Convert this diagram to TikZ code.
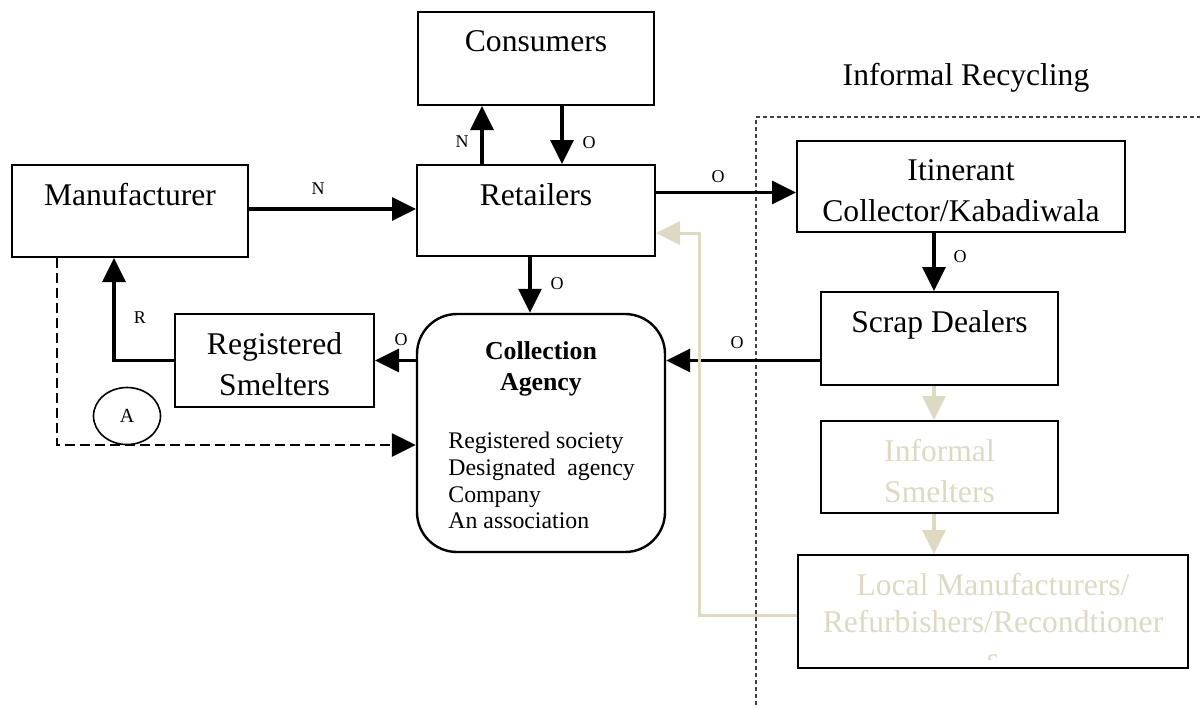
\documentclass[tikz,border=0pt]{standalone}
\usepackage{fontspec}
\setmainfont{Liberation Serif}
\usepackage{xcolor}
\usetikzlibrary{arrows.meta,shapes.geometric}
\definecolor{tan}{HTML}{DDD9C3}
\definecolor{dashgray}{HTML}{404040}
\newcommand{\boxfont}{\fontsize{15.8}{20.5}\selectfont}
\newcommand{\localfont}{\fontsize{15.8}{18.5}\selectfont}
\newcommand{\headfont}{\fontsize{12.9}{15.5}\selectfont\bfseries}
\newcommand{\listfont}{\fontsize{11.9}{13.3}\selectfont}

\begin{document}
\begin{tikzpicture}[x=0.5pt,y=-0.5pt,
    box/.style n args={2}{draw,line width=1pt,inner sep=0pt,minimum width=#1,minimum height=#2},
    boxlab/.style={anchor=north,yshift=-9.5pt,inner sep=0pt,align=center,font=\boxfont},
    txt/.style={label={[boxlab]north:#1}},
    flow/.style={-{Triangle[length=12pt,width=11.5pt]},line width=1.6pt},
    edgelab/.style={font=\fontsize{9}{10}\selectfont,inner sep=0pt}]
    \useasboundingbox (0,0) rectangle (1204,708);
    % informal recycling zone
    \node[font=\boxfont,anchor=base] (inf-title) at (966,85) {Informal Recycling};
    \coordinate (bnd-bot) at (756,705);
    \coordinate (bnd-top) at (756,117);
    \coordinate (bnd-right) at (1200,117);
    \draw[dashgray,line width=0.6pt,dash pattern=on 2pt off 1.5pt] (bnd-bot) -- (bnd-top) -- (bnd-right);
    % boxes
    \node[box={118pt}{46.5pt},txt=Consumers] (cons) at (536,58.5) {};
    \node[box={118pt}{46pt},txt=Manufacturer] (man) at (130,211) {};
    \node[box={119pt}{45.5pt},txt=Retailers] (ret) at (536,210.5) {};
    \node[box={164pt}{45.5pt},txt={Itinerant\\Collector/Kabadiwala}] (itin) at (961,186.5) {};
    \node[box={118.5pt}{46.5pt},txt={Scrap Dealers}] (scrap) at (939.5,338.5) {};
    \node[box={118.5pt}{46pt},label={[boxlab,text=tan]north:{Informal\\Smelters}}] (ismelt) at (939.5,467) {};
    \node[box={195pt}{56.5pt}] (local) at (993,611.5) {};
    \begin{scope}
      \clip (local.north west) rectangle ([yshift=5pt]local.south east);
      \node[boxlab,text=tan,font=\localfont] (local-txt) at (local.north) {Local Manufacturers/\\Refurbishers/Recondtioner\\s};
    \end{scope}
    \node[box={99.5pt}{46.5pt},txt={Registered\\Smelters}] (rsmelt) at (274.5,360.5) {};
    \node[draw,line width=1.2pt,rounded corners=20pt,minimum width=124pt,minimum height=119pt,inner sep=0pt,
      label={[anchor=north,yshift=-14pt,inner sep=0pt,align=center,font=\headfont]north:{Collection\\Agency}}] (coll) at (541,433) {};
    \node[anchor=north west,inner sep=0pt,align=left,font=\listfont] (coll-list) at (448,432)
      {Registered society\\Designated\ \ agency\\Company\\An association};
    \node[draw,ellipse,line width=0.8pt,minimum width=33.5pt,minimum height=28.5pt,inner sep=0pt,
      font=\fontsize{10}{12}\selectfont] (circA) at (127,416) {A};
    % flows
    \draw[flow] ([yshift=1pt]man.east) coordinate (m2r) -- (m2r -| ret.west);
    \draw[flow] ([xshift=-27pt]ret.north) -- ([xshift=-27pt]cons.south);
    \draw[flow] ([xshift=13pt]cons.south) -- ([xshift=13pt]ret.north);
    \draw[flow] ([yshift=9pt]ret.east) coordinate (r2i) -- (r2i -| itin.west);
    \draw[flow] ([xshift=-3pt]ret.south) coordinate (r2c) -- (r2c |- coll.north);
    \draw[flow] ([xshift=-13.5pt]itin.south) coordinate (i2s) -- (i2s |- scrap.north);
    \draw[flow] (scrap.west |- rsmelt.east) -- (coll.east |- rsmelt.east);
    \draw[flow] (coll.west |- rsmelt.east) -- (rsmelt.east);
    \draw[flow] (rsmelt.west) -| ([xshift=-8pt]man.south);
    \draw[flow,line width=1.3pt,dash pattern=on 5pt off 2.5pt] ([xshift=-36.5pt]man.south) |- ([yshift=-6pt]coll.west);
    \draw[flow,tan] ([xshift=-2.75pt]scrap.south) coordinate (s2i) -- (s2i |- ismelt.north);
    \draw[flow,tan] ([xshift=-2.75pt]ismelt.south) coordinate (i2l) -- (i2l |- local.north);
    \draw[flow,tan,line width=1.5pt] ([yshift=-1.75pt]local.west) -- ++(-49pt,0) |- ([yshift=-11.25pt]ret.east);
    % flow labels
    \node[edgelab] (lab-rc) at (462,142) {N};
    \node[edgelab] (lab-cr) at (589,143) {O};
    \node[edgelab] (lab-mr) at (318,189) {N};
    \node[edgelab] (lab-ri) at (718,177) {O};
    \node[edgelab] (lab-is) at (960,257) {O};
    \node[edgelab] (lab-rca) at (557,284) {O};
    \node[edgelab] (lab-crs) at (401,340) {O};
    \node[edgelab] (lab-sc) at (737,343) {O};
    \node[edgelab] (lab-rm) at (140,318) {R};
\end{tikzpicture}
\end{document}
